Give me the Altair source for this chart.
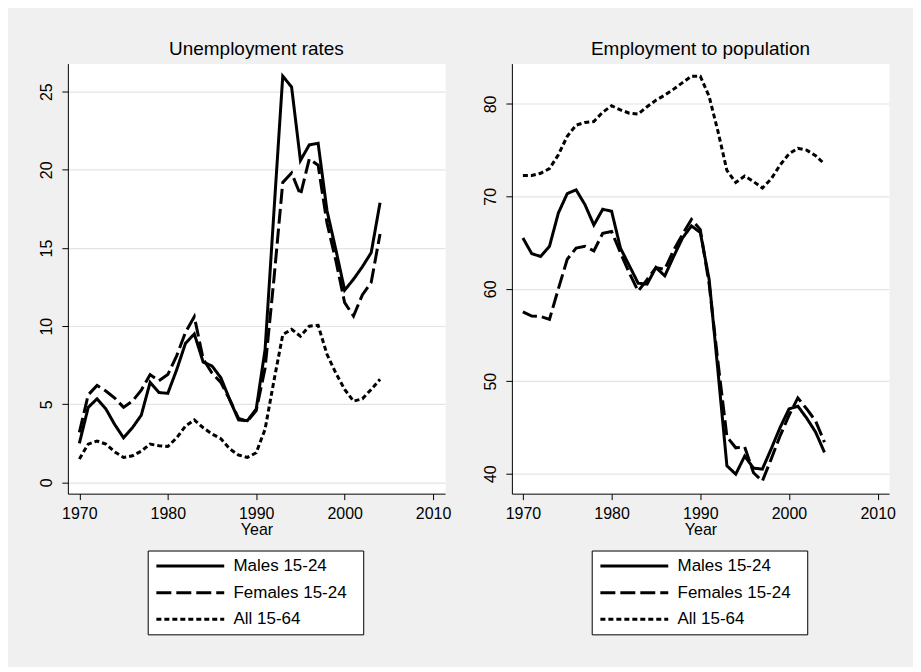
import altair as alt
import pandas as pd

years = list(range(1970, 2005))
series = ["Males 15-24", "Females 15-24", "All 15-64"]
x_ticks = [1970, 1980, 1990, 2000, 2010]

unemp_males = [2.5, 4.8, 5.35, 4.7, 3.7, 2.85, 3.5, 4.3, 6.4, 5.75,
               5.7, 7.2, 8.9, 9.5, 7.7, 7.45, 6.7, 5.3, 4.0, 3.95,
               4.7, 8.5, 17.3, 26.0, 25.3, 20.6, 21.6, 21.7, 17.4, 14.9,
               12.3, 13.0, 13.8, 14.7, 17.9]
unemp_females = [3.2, 5.6, 6.2, 5.85, 5.4, 4.8, 5.2, 5.9, 6.9, 6.5,
                 6.9, 8.1, 9.6, 10.6, 7.9, 7.0, 6.4, 5.3, 4.1, 3.9,
                 4.6, 7.3, 13.0, 19.2, 19.8, 18.4, 20.7, 20.3, 16.6, 14.2,
                 11.5, 10.65, 12.0, 12.8, 15.9]
unemp_all = [1.5, 2.45, 2.65, 2.45, 1.95, 1.6, 1.7, 2.0, 2.45, 2.35,
             2.3, 2.85, 3.6, 4.0, 3.5, 3.1, 2.8, 2.15, 1.75, 1.6,
             1.9, 3.4, 6.5, 9.45, 9.8, 9.35, 10.0, 10.05, 8.2, 7.0,
             5.95, 5.2, 5.35, 5.95, 6.6]

emp_males = [65.5, 63.8, 63.5, 64.6, 68.2, 70.3, 70.7, 69.1, 66.9, 68.6,
             68.4, 64.4, 62.5, 60.6, 60.5, 62.3, 61.4, 63.5, 65.5, 66.8,
             66.1, 61.0, 51.0, 40.85, 39.95, 41.9, 40.6, 40.5, 42.7, 45.0,
             47.0, 47.3, 46.0, 44.5, 42.3]
emp_females = [57.5, 57.05, 57.0, 56.7, 60.0, 63.2, 64.4, 64.6, 64.1, 66.0,
               66.2, 63.9, 61.7, 59.75, 61.0, 62.3, 62.1, 64.2, 65.9, 67.5,
               66.4, 60.5, 52.0, 44.0, 42.8, 42.9, 40.1, 39.2, 41.6, 44.1,
               46.3, 48.2, 47.0, 45.7, 43.4]
emp_all = [72.25, 72.25, 72.5, 73.0, 74.5, 76.5, 77.7, 78.0, 78.1, 79.1,
           79.8, 79.35, 79.0, 78.9, 79.7, 80.4, 80.95, 81.6, 82.3, 83.0,
           83.0, 80.8, 77.0, 72.8, 71.5, 72.2, 71.6, 70.9, 71.9, 73.4,
           74.6, 75.2, 75.0, 74.4, 73.5]


def long_table(m, f, a):
    rows = []
    for i, yr in enumerate(years):
        for s, vals in zip(series, (m, f, a)):
            rows.append({"year": yr, "series": s, "value": vals[i]})
    return pd.DataFrame(rows)


FONT = "Liberation Sans"


def panel(df, title, xdom, ydom, yticks):
    legend = alt.Legend(
        title=None, orient="none", legendX=80, legendY=488,
        symbolType="M-2,0H18", symbolSize=46.24, symbolStrokeWidth=3,
        symbolStrokeColor="black", labelFont=FONT, labelFontSize=17,
        labelColor="black", strokeColor="black", fillColor="white",
        padding=7, rowPadding=8.7, labelOffset=62,
        labelExpr="datum.label + '\u00a0\u00a0\u200d'",
    )
    return alt.Chart(df).mark_line(color="black", strokeWidth=3).encode(
        x=alt.X("year:Q",
                scale=alt.Scale(domain=xdom, nice=False, zero=False),
                axis=alt.Axis(values=x_ticks, format="d", title="Year",
                              grid=False, labelPadding=6, titlePadding=0)),
        y=alt.Y("value:Q",
                scale=alt.Scale(domain=ydom, nice=False, zero=False),
                axis=alt.Axis(values=yticks, title=None, grid=True,
                              gridColor="#e4e4e4", gridWidth=1.2,
                              labelAngle=270, labelAlign="center",
                              labelBaseline="alphabetic", labelPadding=10)),
        strokeDash=alt.StrokeDash(
            "series:N",
            scale=alt.Scale(domain=series, range=[[1, 0], [15, 5], [5, 3]]),
            legend=legend),
    ).properties(
        width=378, height=431,
        title=alt.TitleParams(title, font=FONT, fontSize=19,
                              fontWeight="normal", color="black",
                              anchor="middle", offset=5),
    )


left = panel(long_table(unemp_males, unemp_females, unemp_all),
             "Unemployment rates", [1968.7, 2011.35], [-0.72, 26.8],
             [0, 5, 10, 15, 20, 25])
right = panel(long_table(emp_males, emp_females, emp_all),
              "Employment to population", [1968.76, 2011.28],
              [37.84, 84.36], [40, 50, 60, 70, 80])

chart = alt.hconcat(left, right, spacing=67, bounds="flush").resolve_scale(
    strokeDash="independent", x="independent", y="independent"
).resolve_legend(strokeDash="independent").configure(
    background="#f0f0f0",
    padding={"left": 30, "top": 30, "right": 17, "bottom": 31},
).configure_view(fill="white", stroke="transparent").configure_axis(
    domainColor="black", domainWidth=1, tickColor="black", tickSize=6,
    labelFont=FONT, labelFontSize=16, labelColor="black",
    titleFont=FONT, titleFontSize=16, titleFontWeight="normal",
    titleColor="black",
)

chart.save("out.html", embed_options={"renderer": "svg", "actions": False})
